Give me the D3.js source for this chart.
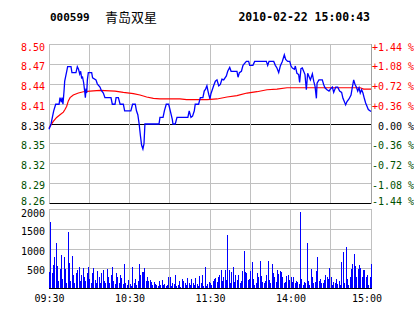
<!DOCTYPE html>
<html>
<head>
<meta charset="utf-8">
<script src="https://cdn.jsdelivr.net/npm/d3@7"></script>
<style>
body { margin: 0; background: #fff; }
text { font-family: "DejaVu Sans Mono", monospace; font-size: 10px; }
</style>
</head>
<body>
<div id="chart-area"></div>
<script>
var stockCode = '000599'
var stockName = '青岛双星'
var stamp = '2010-02-22 15:00:43'
var prevClose = 8.38

var pctLevels = [1.44, 1.08, 0.72, 0.36, 0, -0.36, -0.72, -1.08, -1.44]
var priceTicks = ['8.50', '8.47', '8.44', '8.41', '8.38', '8.35', '8.32', '8.29', '8.26']
var pctTicks = ['+1.44 %', '+1.08 %', '+0.72 %', '+0.36 %', ' 0.00 %', '-0.36 %', '-0.72 %', '-1.08 %', '-1.44 %']
var volTicks = [2000, 1500, 1000, 500]
var volLabels = ['2000', '1500', '1000', '500']
var gridMinutes = [30, 60, 90, 120, 150, 180, 210]
var timeMinutes = [0, 60, 120, 180, 240]
var timeTicks = ['09:30', '10:30', '11:30', '14:00', '15:00']

// price line vertices: minute from 09:30 (afternoon continues after 120), price
var priceMinute = [0, 1.5, 2.5, 3.5, 5, 7.5, 8.2, 9.2, 9.7, 10.4, 11.2, 11.7, 12.2, 13.2, 13.9, 16.4, 17.1, 20.1, 21.1, 22,
    22.9, 23.6, 24.3, 25, 25.8, 26.6, 27.1, 27.6, 28.1, 28.6, 29.3, 31.8, 32.5, 35, 36, 38, 39, 40.5, 41.7, 46.2,
    47.2, 49.2, 50, 51.7, 53, 55.4, 56.4, 61, 62.3, 64.3, 65.2, 66.2, 67.2, 68.1, 69, 70, 70.8, 71.5, 82, 82.7,
    85, 86, 87.4, 89.2, 90.4, 91.9, 92.4, 94.1, 95.4, 103.5, 104.5, 105.8, 107, 108.3, 109, 111.5, 112.8, 114.7, 115.7, 116.7,
    117.7, 118.5, 119.2, 120, 120.7, 121.7, 122.7, 124, 125.2, 126.5, 127.7, 128.9, 130.2, 132.2, 133.2, 134.7, 135.7, 140.1, 140.9, 141.9,
    143.4, 144.6, 147.1, 148.8, 149.6, 152, 153.3, 162, 163, 164, 167.5, 168.7, 169.9, 171.2, 172.4, 173.9, 175.4, 176.4, 177.9, 179.4,
    180.4, 181.4, 182.9, 183.6, 184.8, 186.1, 186.8, 187.8, 188.8, 189.8, 190.8, 191.8, 192.8, 193.8, 194.8, 196.3, 197.3, 198.3, 199.3, 199.8,
    201.2, 203.7, 204.7, 205.7, 207.2, 208.7, 209.7, 211.2, 212.2, 213.7, 215.2, 216.6, 218.1, 219.1, 220.1, 221.1, 222.1, 223.6, 225.1, 226.1,
    227.1, 228.1, 229.1, 230.1, 231.1, 232, 233, 234, 235, 236, 237, 238, 240]
var priceValue = [8.372, 8.38, 8.39, 8.40, 8.41, 8.41, 8.42, 8.413, 8.42, 8.41, 8.43, 8.445, 8.45, 8.46, 8.467, 8.467, 8.458, 8.458, 8.467, 8.463,
    8.456, 8.46, 8.45, 8.451, 8.443, 8.43, 8.42, 8.434, 8.427, 8.447, 8.458, 8.458, 8.45, 8.447, 8.441, 8.436, 8.431, 8.427, 8.42, 8.42,
    8.41, 8.41, 8.42, 8.42, 8.41, 8.41, 8.40, 8.40, 8.41, 8.41, 8.40, 8.394, 8.38, 8.363, 8.348, 8.342, 8.35, 8.38, 8.38, 8.39,
    8.39, 8.40, 8.41, 8.41, 8.40, 8.387, 8.38, 8.38, 8.39, 8.39, 8.40, 8.39, 8.392, 8.40, 8.41, 8.41, 8.42, 8.42, 8.43, 8.433,
    8.438, 8.43, 8.424, 8.418, 8.426, 8.432, 8.438, 8.445, 8.447, 8.438, 8.44, 8.448, 8.447, 8.453, 8.46, 8.466, 8.46, 8.46, 8.451, 8.458,
    8.46, 8.469, 8.475, 8.475, 8.469, 8.469, 8.475, 8.475, 8.469, 8.475, 8.475, 8.469, 8.465, 8.458, 8.468, 8.475, 8.485, 8.478, 8.475, 8.475,
    8.468, 8.465, 8.463, 8.468, 8.457, 8.455, 8.443, 8.464, 8.465, 8.46, 8.455, 8.432, 8.457, 8.452, 8.447, 8.456, 8.445, 8.437, 8.419, 8.442,
    8.447, 8.447, 8.44, 8.435, 8.432, 8.43, 8.433, 8.436, 8.428, 8.436, 8.436, 8.43, 8.428, 8.419, 8.414, 8.409, 8.414, 8.418, 8.424, 8.436,
    8.447, 8.44, 8.436, 8.43, 8.435, 8.427, 8.432, 8.427, 8.419, 8.412, 8.407, 8.402, 8.399]

// average price line vertices
var avgMinute = [0, 3.2, 5.7, 8.2, 10.7, 11.9, 13.2, 14.4, 15.7, 18.1, 21.9, 25.6, 30.6, 38, 49.2, 55.4, 62.9, 67.8, 72.8, 77.8,
    82.7, 97.6, 102.6, 117.8, 125.2, 132.7, 140.1, 147.6, 155, 162.5, 169.9, 177.4, 232, 234.5, 240]
var avgValue = [8.374, 8.384, 8.39, 8.394, 8.398, 8.402, 8.407, 8.415, 8.42, 8.424, 8.427, 8.429, 8.43, 8.431, 8.43, 8.428, 8.426, 8.424, 8.421, 8.419,
    8.418, 8.418, 8.417, 8.417, 8.418, 8.421, 8.423, 8.427, 8.429, 8.432, 8.433, 8.435, 8.435, 8.433, 8.433]

// volume per minute, 09:30 .. 11:30 then 13:01 .. 15:00
var volume = [430, 1680, 380, 600, 800, 1150, 580, 200, 500, 850, 250, 800, 500, 150, 1420, 650, 200, 820, 350, 150,
    400, 480, 540, 200, 350, 520, 300, 180, 400, 550, 250, 150, 380, 520, 220, 150, 450, 300, 150, 400,
    470, 200, 130, 500, 280, 150, 350, 550, 200, 120, 400, 300, 150, 350, 260, 120, 620, 150, 90, 210,
    110, 60, 540, 130, 250, 80, 180, 620, 350, 420, 430, 530, 190, 300, 200, 210, 170, 100, 160, 120,
    90, 60, 180, 100, 210, 80, 110, 60, 100, 300, 280, 60, 150, 120, 350, 60, 100, 180, 50, 250,
    200, 130, 80, 270, 150, 100, 230, 150, 80, 270, 110, 60, 320, 130, 330, 60, 540, 60, 120, 170,
    150, 100, 200, 230, 260, 170, 300, 350, 480, 200, 300, 480, 220, 1350, 460, 150, 420, 550, 170, 340,
    210, 340, 150, 180, 450, 950, 420, 400, 210, 250, 450, 680, 250, 100, 140, 400, 300, 700, 310, 160,
    140, 200, 340, 700, 220, 130, 630, 400, 300, 170, 480, 360, 440, 420, 300, 130, 170, 320, 330, 220,
    300, 170, 300, 150, 200, 170, 110, 1930, 250, 90, 170, 150, 1140, 190, 80, 500, 300, 130, 170, 450,
    800, 190, 230, 140, 130, 210, 340, 300, 250, 530, 300, 80, 170, 130, 250, 110, 190, 80, 675, 930,
    130, 1055, 250, 80, 300, 500, 630, 870, 560, 300, 500, 600, 530, 300, 480, 460, 300, 330, 80, 300, 630]

var svg = d3.select('#chart-area').append('svg')
    .attr('width', 414)
    .attr('height', 314)

var x = d3.scaleLinear().domain([0, 240]).range([49, 371])
var y = d3.scaleLinear()
    .domain([prevClose * (1 - 0.0144), prevClose * (1 + 0.0144)])
    .range([203.5, 44.5])
var yVol = d3.scaleLinear().domain([0, 2000]).range([288.5, 209.5])

var crisp = (v) => Math.round(v - 0.5) + 0.5
var levelY = (p) => crisp(y(prevClose * (1 + p / 100)))
var colorOf = (p) => p > 0 ? '#ff0000' : (p < 0 ? '#005000' : '#000000')

// header
svg.append('text').attr('x', 50).attr('y', 21)
    .style('font-size', '11px').style('font-weight', 'bold')
    .text(stockCode)
svg.append('text').attr('x', 105).attr('y', 22)
    .style('font-family', '"Noto Sans CJK SC", sans-serif').style('font-size', '13px')
    .text(stockName)
svg.append('text').attr('x', 370).attr('y', 21)
    .attr('text-anchor', 'end')
    .style('font-size', '11.5px').style('font-weight', 'bold')
    .text(stamp)

// price grid
svg.selectAll('.hgrid')
    .data(pctLevels)
    .enter()
    .append('line')
    .attr('x1', 49.5)
    .attr('x2', 371.5)
    .attr('y1', (d) => levelY(d))
    .attr('y2', (d) => levelY(d))
    .attr('stroke', (d, i) => (d === 0 || i === pctLevels.length - 1) ? '#000' : '#c0c0c0')

svg.selectAll('.vgrid')
    .data(gridMinutes)
    .enter()
    .append('line')
    .attr('x1', (d) => crisp(x(d)))
    .attr('x2', (d) => crisp(x(d)))
    .attr('y1', 44.5)
    .attr('y2', 203)
    .attr('stroke', '#c0c0c0')

svg.append('line').attr('x1', 49.5).attr('x2', 49.5).attr('y1', 44).attr('y2', 203).attr('stroke', '#c0c0c0')
svg.append('line').attr('x1', 371.5).attr('x2', 371.5).attr('y1', 44).attr('y2', 204).attr('stroke', '#a0a0a0')

// price labels
svg.selectAll('.plabel')
    .data(pctLevels)
    .enter()
    .append('text')
    .attr('x', 45)
    .attr('y', (d, i) => levelY(d) + (i === 0 ? 6.5 : (i === pctLevels.length - 1 ? 1 : 5)))
    .attr('text-anchor', 'end')
    .attr('fill', (d) => colorOf(d))
    .text((d, i) => priceTicks[i])

svg.selectAll('.rlabel')
    .data(pctLevels)
    .enter()
    .append('text')
    .attr('x', 372)
    .attr('y', (d, i) => levelY(d) + (i === 0 ? 6.5 : (i === pctLevels.length - 1 ? 1 : 5)))
    .attr('fill', (d) => colorOf(d))
    .style('white-space', 'pre')
    .attr('xml:space', 'preserve')
    .text((d, i) => pctTicks[i])

// average and price lines
var avgLine = d3.line()
    .x((d) => x(d[0]))
    .y((d) => y(d[1]))

svg.append('path')
    .datum(avgMinute.map((m, i) => [m, avgValue[i]]))
    .attr('d', avgLine)
    .attr('fill', 'none')
    .attr('stroke', '#ff0000')
    .attr('stroke-width', 1.2)

svg.append('path')
    .datum(priceMinute.map((m, i) => [m, priceValue[i]]))
    .attr('d', avgLine)
    .attr('fill', 'none')
    .attr('stroke', '#0000ff')
    .attr('stroke-width', 1.3)

// volume panel
svg.selectAll('.vhgrid')
    .data(volTicks)
    .enter()
    .append('line')
    .attr('x1', 49.5)
    .attr('x2', 371.5)
    .attr('y1', (d) => crisp(yVol(d)))
    .attr('y2', (d) => crisp(yVol(d)))
    .attr('stroke', '#c0c0c0')

svg.selectAll('.vvgrid')
    .data(gridMinutes)
    .enter()
    .append('line')
    .attr('x1', (d) => crisp(x(d)))
    .attr('x2', (d) => crisp(x(d)))
    .attr('y1', 209.5)
    .attr('y2', 288)
    .attr('stroke', '#c0c0c0')

svg.append('line').attr('x1', 49.5).attr('x2', 49.5).attr('y1', 209).attr('y2', 288).attr('stroke', '#c0c0c0')
svg.append('line').attr('x1', 371.5).attr('x2', 371.5).attr('y1', 209).attr('y2', 288).attr('stroke', '#c0c0c0')

svg.selectAll('.bar')
    .data(volume)
    .enter()
    .append('rect')
    .attr('x', (d, i) => Math.round(x(i)))
    .attr('y', (d) => yVol(d))
    .attr('width', 1)
    .attr('height', (d) => yVol(0) - yVol(d))
    .attr('fill', '#0000ff')
    .attr('shape-rendering', 'crispEdges')

svg.append('line').attr('x1', 49).attr('x2', 372).attr('y1', 288.5).attr('y2', 288.5).attr('stroke', '#000')

svg.selectAll('.vlabel')
    .data(volTicks)
    .enter()
    .append('text')
    .attr('x', 45)
    .attr('y', (d, i) => crisp(yVol(d)) + (i === 0 ? 7 : 5))
    .attr('text-anchor', 'end')
    .text((d, i) => volLabels[i])

// time labels
svg.selectAll('.tlabel')
    .data(timeMinutes)
    .enter()
    .append('text')
    .attr('x', (d, i) => x(d) + (i === timeMinutes.length - 1 ? -4 : 0.5))
    .attr('y', 301.5)
    .attr('text-anchor', 'middle')
    .text((d, i) => timeTicks[i])
</script>
</body>
</html>
